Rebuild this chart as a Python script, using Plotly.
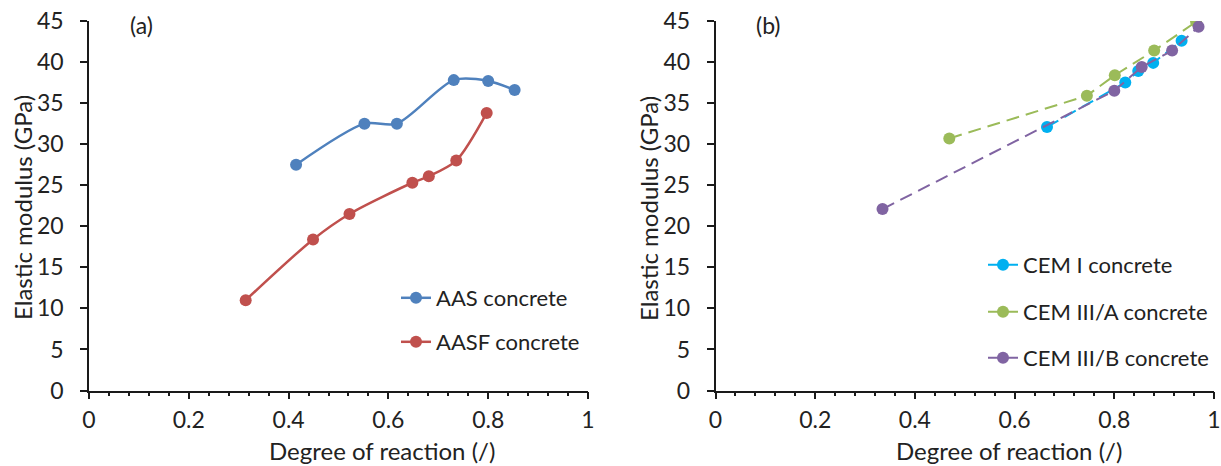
import plotly.graph_objects as go

# Panel (a): alkali-activated concretes
aas_x = [0.415, 0.552, 0.617, 0.731, 0.800, 0.853]
aas_y = [27.5, 32.5, 32.5, 37.8, 37.7, 36.6]
aasf_x = [0.314, 0.449, 0.522, 0.648, 0.681, 0.736, 0.797]
aasf_y = [11.0, 18.4, 21.5, 25.3, 26.1, 28.0, 33.8]

# Panel (b): cement-based concretes
cem1_x = [0.665, 0.822, 0.848, 0.878, 0.935]
cem1_y = [32.1, 37.5, 38.9, 39.9, 42.6]
cem3a_x = [0.469, 0.745, 0.801, 0.880, 0.964]
cem3a_y = [30.7, 35.9, 38.4, 41.4, 44.9]
cem3b_x = [0.335, 0.800, 0.855, 0.916, 0.969]
cem3b_y = [22.1, 36.5, 39.4, 41.4, 44.3]

x_ticks = [0, 0.2, 0.4, 0.6, 0.8, 1]
x_labels = ["0", "0.2", "0.4", "0.6", "0.8", "1"]
y_ticks = list(range(0, 50, 5))

W, H = 1221, 466
FONT = "Lato, Carlito, Calibri, sans-serif"
TXT = "#222222"
AX = "#1a1a1a"


def px_x(p):
    return p / W


def px_y(p):
    return 1 - p / H


fig = go.Figure()

fig.add_trace(go.Scatter(x=aas_x, y=aas_y, name="AAS concrete", mode="lines+markers",
                         line=dict(color="#4F81BD", width=2.5, shape="spline", smoothing=0.8),
                         marker=dict(size=12, color="#4F81BD"),
                         xaxis="x", yaxis="y", legend="legend"))
fig.add_trace(go.Scatter(x=aasf_x, y=aasf_y, name="AASF concrete", mode="lines+markers",
                         line=dict(color="#C0504D", width=2.5, shape="spline", smoothing=0.8),
                         marker=dict(size=12, color="#C0504D"),
                         xaxis="x", yaxis="y", legend="legend2"))

dash = "13px,7px"
fig.add_trace(go.Scatter(x=cem1_x, y=cem1_y, name="CEM I concrete", mode="lines+markers",
                         line=dict(color="#00B0F0", width=2, dash=dash),
                         marker=dict(size=12, color="#00B0F0"),
                         xaxis="x2", yaxis="y2", legend="legend3"))
fig.add_trace(go.Scatter(x=cem3a_x, y=cem3a_y, name="CEM III/A concrete", mode="lines+markers",
                         line=dict(color="#9BBB59", width=2, dash=dash),
                         marker=dict(size=12, color="#9BBB59"),
                         xaxis="x2", yaxis="y2", legend="legend4"))
fig.add_trace(go.Scatter(x=cem3b_x, y=cem3b_y, name="CEM III/B concrete", mode="lines+markers",
                         line=dict(color="#8064A2", width=2, dash=dash),
                         marker=dict(size=12, color="#8064A2"),
                         xaxis="x2", yaxis="y2", legend="legend5"))

xdom_a = [px_x(89), px_x(588)]
xdom_b = [px_x(715.5), px_x(1214)]
ydom = [px_y(390.5), px_y(21)]

TICK_SIZE = 23
xcommon = dict(range=[0, 1], tickvals=x_ticks, ticktext=x_labels,
               showline=True, linecolor=AX, linewidth=1.5, showgrid=False, zeroline=False,
               ticks="outside", ticklen=7, tickwidth=1.5, tickcolor=AX,
               minor=dict(dtick=0.04, tick0=0, ticks="outside", ticklen=4, tickwidth=1.5, tickcolor=AX),
               tickfont=dict(family=FONT, size=TICK_SIZE, color=TXT), ticklabelstandoff=1,
               automargin=False, fixedrange=True)
ycommon = dict(range=[0, 45], tickvals=y_ticks,
               showline=True, linecolor=AX, linewidth=1.5, showgrid=False, zeroline=False,
               ticks="outside", ticklen=7, tickwidth=1.5, tickcolor=AX,
               tickfont=dict(family=FONT, size=TICK_SIZE, color=TXT), ticklabelstandoff=12,
               automargin=False, fixedrange=True, domain=ydom)

fig.update_layout(
    width=W, height=H,
    margin=dict(l=0, r=0, t=0, b=0),
    paper_bgcolor="white", plot_bgcolor="white",
    showlegend=True,
    font=dict(family=FONT, size=22, color=TXT),
    xaxis=dict(domain=xdom_a, anchor="y", **xcommon),
    yaxis=dict(anchor="x", **ycommon),
    xaxis2=dict(domain=xdom_b, anchor="y2", **xcommon),
    yaxis2=dict(anchor="x2", **ycommon),
)

legend_style = dict(xanchor="left", yanchor="middle", bgcolor="rgba(0,0,0,0)",
                    borderwidth=0, font=dict(family=FONT, size=22, color=TXT))
fig.update_layout(
    legend=dict(x=px_x(396), y=px_y(298), **legend_style),
    legend2=dict(x=px_x(396), y=px_y(342), **legend_style),
    legend3=dict(x=px_x(983), y=px_y(265), **legend_style),
    legend4=dict(x=px_x(983), y=px_y(312), **legend_style),
    legend5=dict(x=px_x(983), y=px_y(358), **legend_style),
)

annots = [
    dict(text="Elastic modulus (GPa)", x=px_x(22), y=px_y(208), textangle=-90, size=24),
    dict(text="Elastic modulus (GPa)", x=px_x(648), y=px_y(208), textangle=-90, size=24),
    dict(text="Degree of reaction (/)", x=px_x(382), y=px_y(450), size=24),
    dict(text="Degree of reaction (/)", x=px_x(1008.5), y=px_y(450), size=24),
    dict(text="(a)", x=px_x(141), y=px_y(25), size=23),
    dict(text="(b)", x=px_x(768), y=px_y(25), size=23),
]
for a in annots:
    size = a.pop("size")
    fig.add_annotation(xref="paper", yref="paper", showarrow=False,
                       xanchor="center", yanchor="middle",
                       font=dict(family=FONT, size=size, color=TXT), **a)

fig.write_html("out.html")
